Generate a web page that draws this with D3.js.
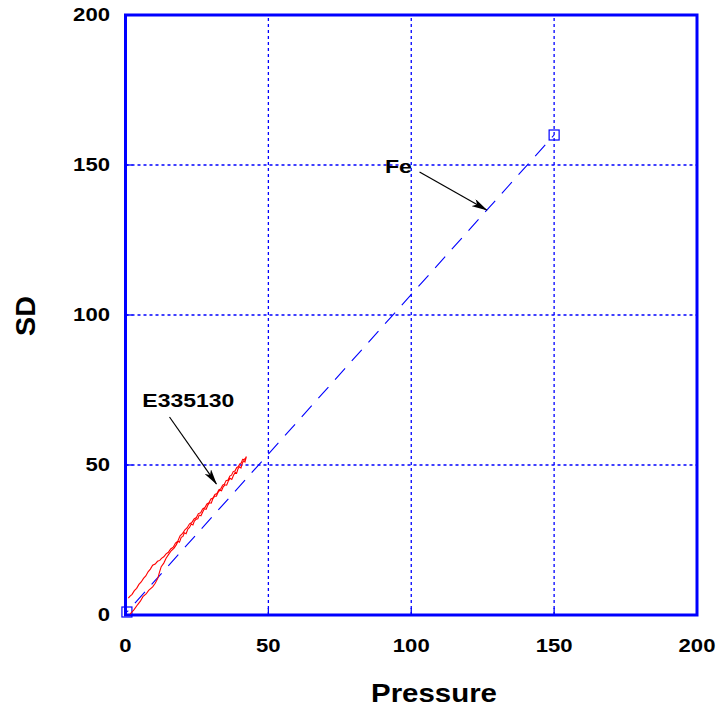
<!DOCTYPE html>
<html><head><meta charset="utf-8">
<script src="https://cdn.jsdelivr.net/npm/d3@7"></script>
<style>body{margin:0;background:#fff}svg{display:block}text{font-family:"Liberation Sans",Arial,sans-serif;font-weight:bold;fill:#000}</style>
</head><body><svg id="c" width="718" height="708"></svg>
<script>
const xTicks = [0, 50, 100, 150, 200];
const yTicks = [0, 50, 100, 150, 200];
const xTitle = "Pressure";
const yTitle = "SD";
// Fe series (blue dashed line with square markers)
const feX = [0.5, 150];
const feY = [1, 160];
// E335130 series (red, loading then unloading)
const eX = [1.6, 3, 4.2, 5.2, 6.1, 7.2, 8.1, 9.5, 10.4, 11.3, 11.9, 12.5, 13.4, 14.2, 15.1, 16.0, 17.0, 17.7, 18.4, 18.9, 19.5, 20.1, 20.6, 21.2, 21.8, 22.4, 23.0, 23.6, 24.1, 24.7, 25.3, 25.8, 26.4, 27.1, 27.6, 28.2, 28.8, 29.4, 30.0, 30.6, 31.2, 31.8, 32.4, 33.0, 33.6, 34.2, 34.8, 35.4, 36.0, 36.6, 37.2, 37.8, 38.4, 38.9, 39.4, 39.9, 40.4, 40.9, 41.4, 41.8, 42.3,
              42.0, 41.5, 41.0, 40.5, 40.0, 39.5, 38.9, 38.3, 37.7, 37.1, 36.5, 35.9, 35.2, 34.6, 34.0, 33.3, 32.7, 32.0, 31.3, 30.6, 29.9, 29.2, 28.5, 27.8, 27.0, 26.3, 25.5, 24.8, 24.0, 23.2, 22.4, 21.6, 20.8, 20.0, 19.1, 18.3, 17.5, 16.7, 15.8, 15.0, 14.2, 13.4, 12.6, 12.0, 11.2, 10.4, 9.5, 8.7, 7.9, 7.1, 6.3, 5.5, 4.7, 3.9, 3.1, 2.3, 1.5, 1.0];
const eY = [0.3, 1.8, 3.4, 4.6, 6.1, 7.0, 8.2, 9.4, 10.6, 12.2, 14.3, 16.1, 17.3, 18.9, 20.2, 21.4, 22.3, 23.3, 24.6, 24.3, 25.9, 26.2, 27.4, 27.1, 28.6, 29.2, 30.3, 30.0, 31.3, 31.9, 32.1, 33.3, 33.1, 34.5, 35.4, 35.2, 36.6, 37.4, 37.3, 38.8, 39.6, 39.6, 40.9, 41.6, 41.4, 42.7, 43.4, 43.3, 44.7, 45.6, 45.2, 46.6, 47.6, 47.3, 48.8, 49.4, 49.0, 50.6, 51.5, 51.0, 52.8,
              52.3, 51.8, 51.9, 50.7, 50.4, 49.5, 49.1, 48.0, 47.8, 46.6, 46.3, 45.0, 44.8, 43.6, 43.3, 42.0, 41.8, 40.5, 40.2, 39.0, 38.7, 37.4, 37.0, 35.8, 35.4, 34.1, 33.8, 32.5, 32.0, 30.8, 30.4, 29.1, 28.4, 27.2, 26.4, 24.6, 24.0, 22.6, 22.0, 20.9, 20.4, 19.4, 18.9, 18.2, 17.9, 17.0, 16.6, 15.3, 14.4, 13.0, 12.2, 11.0, 10.2, 8.9, 8.1, 6.9, 6.2, 5.6];
// Annotations
const annText = ["E335130", "Fe"];
const annTextX = [5.9, 90.8];   // data coords of text start
const annTextY = [69.5, 147.3];
const annFromX = [15.4, 102.9];
const annFromY = [66.0, 147.7];
const annToX = [31.8, 126.4];
const annToY = [43.7, 135.0];

const svg = d3.select("#c");
const x = d3.scaleLinear().domain([0, 200]).range([125.5, 697]);
const y = d3.scaleLinear().domain([0, 200]).range([615, 15]);
const blue = "#0000ff";

// grid
const g = svg.append("g");
g.selectAll(".gx").data(xTicks.slice(1, -1)).enter().append("line")
  .attr("x1", d => x(d)).attr("x2", d => x(d)).attr("y1", y(0)).attr("y2", y(200))
  .attr("stroke", blue).attr("stroke-width", 1.3).attr("stroke-dasharray", "3,3");
g.selectAll(".gy").data(yTicks.slice(1, -1)).enter().append("line")
  .attr("y1", d => y(d)).attr("y2", d => y(d)).attr("x1", x(0)).attr("x2", x(200))
  .attr("stroke", blue).attr("stroke-width", 1.3).attr("stroke-dasharray", "3,3");

// inward ticks
const tickLen = 7;
g.selectAll(".tx").data(xTicks).enter().append("line")
  .attr("x1", d => x(d)).attr("x2", d => x(d)).attr("y1", y(0)).attr("y2", y(0) - tickLen)
  .attr("stroke", blue).attr("stroke-width", 1.3);
g.selectAll(".ty").data(yTicks).enter().append("line")
  .attr("y1", d => y(d)).attr("y2", d => y(d)).attr("x1", x(0)).attr("x2", x(0) + tickLen)
  .attr("stroke", blue).attr("stroke-width", 1.3);

// frame
svg.append("rect").attr("x", x(0)).attr("y", y(200)).attr("width", x(200) - x(0)).attr("height", y(0) - y(200))
  .attr("fill", "none").attr("stroke", blue).attr("stroke-width", 3);

// tick labels
const digitW = 12.3;
svg.selectAll(".xl").data(xTicks).enter().append("text")
  .attr("x", d => x(d)).attr("y", 652).attr("text-anchor", "middle").attr("font-size", 19)
  .attr("textLength", d => String(d).length * digitW).attr("lengthAdjust", "spacingAndGlyphs")
  .text(d => d);
svg.selectAll(".yl").data(yTicks).enter().append("text")
  .attr("x", 110).attr("y", d => y(d) + 6).attr("text-anchor", "end").attr("font-size", 19)
  .attr("textLength", d => String(d).length * digitW).attr("lengthAdjust", "spacingAndGlyphs")
  .text(d => d);

// axis titles
svg.append("text").attr("x", 434).attr("y", 702).attr("text-anchor", "middle").attr("font-size", 26)
  .attr("textLength", 126).attr("lengthAdjust", "spacingAndGlyphs").text(xTitle);
svg.append("text").attr("transform", "translate(35,316) rotate(-90)").attr("text-anchor", "middle")
  .attr("font-size", 27).attr("textLength", 40).attr("lengthAdjust", "spacingAndGlyphs").text(yTitle);

// Fe series
const fePts = feX.map((v, i) => [v, feY[i]]);
svg.append("path").datum(fePts)
  .attr("d", d3.line().x(d => x(d[0])).y(d => y(d[1])))
  .attr("fill", "none").attr("stroke", blue).attr("stroke-width", 1.1).attr("stroke-dasharray", "15,10")
  .attr("stroke-dashoffset", -12);
svg.selectAll(".sq").data(fePts).enter().append("rect")
  .attr("x", d => x(d[0]) - 5).attr("y", d => y(d[1]) - 5).attr("width", 10).attr("height", 10)
  .attr("fill", "none").attr("stroke", blue).attr("stroke-width", 1.2);

// E335130 series
const ePts = eX.map((v, i) => [v, eY[i]]);
svg.append("path").datum(ePts)
  .attr("d", d3.line().x(d => x(d[0])).y(d => y(d[1])))
  .attr("fill", "none").attr("stroke", "#ff0000").attr("stroke-width", 1.1);

// annotations
const defs = svg.append("defs");
defs.append("marker").attr("id", "ah").attr("viewBox", "0 0 16 8").attr("refX", 15).attr("refY", 4)
  .attr("markerWidth", 16).attr("markerHeight", 8).attr("markerUnits", "userSpaceOnUse").attr("orient", "auto")
  .append("path").attr("d", "M0,0 L16,4 L0,8 L4,4 Z").attr("fill", "#000");
annText.forEach((t, i) => {
  svg.append("line")
    .attr("x1", x(annFromX[i])).attr("y1", y(annFromY[i]))
    .attr("x2", x(annToX[i])).attr("y2", y(annToY[i]))
    .attr("stroke", "#000").attr("stroke-width", 1.2).attr("marker-end", "url(#ah)");
  svg.append("text").attr("x", x(annTextX[i])).attr("y", y(annTextY[i])).attr("font-size", 19)
    .attr("textLength", i === 0 ? 92 : 27).attr("lengthAdjust", "spacingAndGlyphs").text(t);
});
</script></body></html>
